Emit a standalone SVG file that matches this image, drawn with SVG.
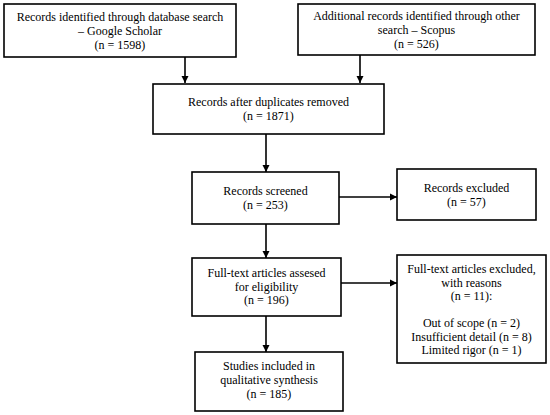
<svg xmlns="http://www.w3.org/2000/svg" width="550" height="415" viewBox="0 0 550 415">
<defs>
<marker id="ah" markerWidth="8" markerHeight="8" refX="7" refY="4" orient="auto" markerUnits="userSpaceOnUse">
<path d="M0,0.5 L7,4 L0,7.5 Z" fill="#000"/>
</marker>
<style>
.box{fill:#fff;stroke:#000;stroke-width:1.6}
.t{font-family:"Liberation Serif","Times New Roman",serif;font-size:12px;fill:#000;text-anchor:middle}
.c{stroke:#000;stroke-width:1.6;fill:none;marker-end:url(#ah)}
</style>
</defs>
<rect width="550" height="415" fill="#fff"/>
<g id="connectors">
<line class="c" x1="185" y1="57" x2="185" y2="83"/>
<line class="c" x1="360" y1="55" x2="360" y2="83"/>
<line class="c" x1="266" y1="134" x2="266" y2="172"/>
<line class="c" x1="339" y1="197" x2="397" y2="197"/>
<line class="c" x1="266" y1="224" x2="266" y2="258"/>
<line class="c" x1="341" y1="283" x2="397" y2="283"/>
<line class="c" x1="266" y1="316" x2="266" y2="352"/>
</g>
<g id="n1">
<rect class="box" x="4" y="4" width="232" height="53"/>
<text class="t" x="120" y="21">Records identified through database search</text>
<text class="t" x="120" y="35">– Google Scholar</text>
<text class="t" x="120" y="49">(n = 1598)</text>
</g>
<g id="n2">
<rect class="box" x="298" y="4" width="237" height="51"/>
<text class="t" x="416.5" y="20">Additional records identified through other</text>
<text class="t" x="416.5" y="34">search – Scopus</text>
<text class="t" x="416.5" y="47.5">(n = 526)</text>
</g>
<g id="n3">
<rect class="box" x="153" y="84" width="231" height="50"/>
<text class="t" x="268.5" y="106">Records after duplicates removed</text>
<text class="t" x="268.5" y="120">(n = 1871)</text>
</g>
<g id="n4">
<rect class="box" x="192" y="172" width="147" height="52"/>
<text class="t" x="265.5" y="195">Records screened</text>
<text class="t" x="265.5" y="208.5">(n = 253)</text>
</g>
<g id="n5">
<rect class="box" x="397" y="169" width="139" height="51"/>
<text class="t" x="466.5" y="192">Records excluded</text>
<text class="t" x="466.5" y="205.5">(n = 57)</text>
</g>
<g id="n6">
<rect class="box" x="192" y="258" width="149" height="58"/>
<text class="t" x="266.5" y="277">Full-text articles assesed</text>
<text class="t" x="266.5" y="290.5">for eligibility</text>
<text class="t" x="266.5" y="304">(n = 196)</text>
</g>
<g id="n7">
<rect class="box" x="397" y="255" width="149" height="108"/>
<text class="t" x="471.5" y="273">Full-text articles excluded,</text>
<text class="t" x="471.5" y="286.5">with reasons</text>
<text class="t" x="471.5" y="300">(n = 11):</text>
<text class="t" x="471.5" y="327">Out of scope (n = 2)</text>
<text class="t" x="471.5" y="340.5">Insufficient detail (n = 8)</text>
<text class="t" x="471.5" y="354">Limited rigor (n = 1)</text>
</g>
<g id="n8">
<rect class="box" x="195" y="352" width="148" height="59"/>
<text class="t" x="269" y="370">Studies included in</text>
<text class="t" x="269" y="384">qualitative synthesis</text>
<text class="t" x="269" y="398">(n = 185)</text>
</g>
</svg>
